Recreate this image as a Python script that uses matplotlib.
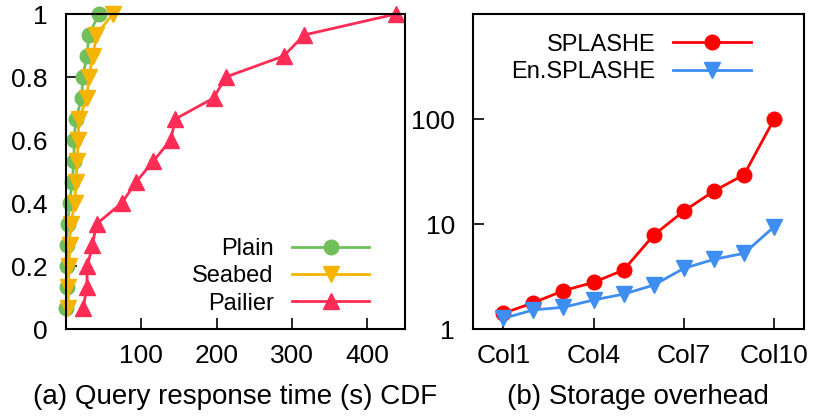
import numpy as np
import matplotlib
matplotlib.use('Agg')
import matplotlib.pyplot as plt

plt.rcParams['font.family'] = ['Liberation Sans', 'DejaVu Sans']

# CDF levels (15 queries)
cdf = [(k + 1) / 15 for k in range(15)]

# query response time (s) sorted, per system
plain_t = [0.5, 1, 1, 1, 2, 5, 8, 10.5, 10.7, 13, 21, 22, 28, 30, 44]
seabed_t = [3, 3, 4, 5, 6, 12, 13, 15, 16, 17, 28, 30, 36, 40, 62]
pailier_t = [23, 27.5, 28.5, 35, 40.5, 74, 93, 116, 139, 145, 196, 212, 289, 316, 438]

# storage overhead per column
cols = ['Col1', 'Col2', 'Col3', 'Col4', 'Col5', 'Col6', 'Col7', 'Col8', 'Col9', 'Col10']
splashe = [1.41, 1.78, 2.32, 2.78, 3.65, 7.85, 13.3, 20.6, 29.5, 100]
en_splashe = [1.26, 1.52, 1.61, 1.89, 2.15, 2.62, 3.78, 4.61, 5.26, 9.43]

FS = 19
LEG = dict(frameon=False, markerfirst=False, fontsize=17, handlelength=3.3,
           handletextpad=0.75, labelspacing=0.22, borderpad=0)

fig = plt.figure(figsize=(8.13, 4.18), dpi=100)
ax1 = fig.add_axes([0.0812, 0.2129, 0.4170, 0.7536])
ax2 = fig.add_axes([0.5820, 0.2129, 0.4073, 0.7536])

for ax in (ax1, ax2):
    for s in ax.spines.values():
        s.set_linewidth(1.5)
    ax.tick_params(direction='in', length=8, width=1.2, labelsize=FS,
                   top=False, right=False)
    ax.tick_params(axis='x', pad=11)
    ax.tick_params(axis='y', pad=13)

# (a) CDF
ax1.plot(plain_t, cdf, '-o', color='#70bf5a', lw=2, ms=10.5, label='Plain', clip_on=False)
ax1.plot(seabed_t, cdf, '-v', color='#f5b400', lw=2, ms=11, label='Seabed', clip_on=False)
ax1.plot(pailier_t, cdf, '-^', color='#ff2d55', lw=2, ms=11, label='Pailier', clip_on=False)
ax1.set_xlim(0, 450)
ax1.set_ylim(0, 1)
ax1.set_xticks([100, 200, 300, 400])
ax1.set_yticks([0, 0.2, 0.4, 0.6, 0.8, 1])
ax1.set_yticklabels(['0', '0.2', '0.4', '0.6', '0.8', '1'])
ax1.legend(loc='lower right', bbox_to_anchor=(0.93, 0.008), **LEG)

# (b) storage overhead
x = np.arange(1, len(cols) + 1)
ax2.plot(x, splashe, '-o', color='#ff0000', lw=2, ms=10.5, label='SPLASHE', clip_on=False)
ax2.plot(x, en_splashe, '-v', color='#3d8ef0', lw=2, ms=11, label='En.SPLASHE', clip_on=False)
ax2.set_yscale('log')
ax2.set_ylim(1, 1000)
ax2.set_xlim(0, 11)
ax2.set_yticks([1, 10, 100])
ax2.set_yticklabels(['1', '10', '100'])
ax2.minorticks_off()
ax2.set_xticks(x[::3])
ax2.set_xticklabels(cols[::3])
ax2.legend(loc='upper right', bbox_to_anchor=(0.875, 0.975), **LEG)

fig.text(0.289, 0.05, '(a) Query response time (s) CDF', ha='center',
         va='center', fontsize=20)
fig.text(0.785, 0.05, '(b) Storage overhead', ha='center', va='center',
         fontsize=20)

fig.savefig('out.png', dpi=100)
